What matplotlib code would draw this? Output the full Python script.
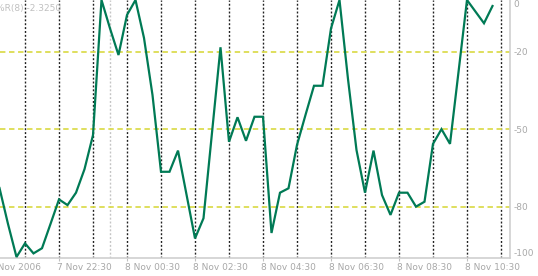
import matplotlib
matplotlib.use('Agg')
import matplotlib.pyplot as plt
import pandas as pd

# Williams %R(8), 15-minute bars, 7 Nov 2006 20:45 -> 8 Nov 2006 11:15
values = [-72.8, -86.7, -99.5, -94.2, -98.1, -96.1, -86.7, -77.2, -79.4, -74.6,
          -65.5, -52.3, 0.0, -11.0, -21.3, -5.8, 0.0, -14.7, -36.8, -66.5,
          -66.5, -58.3, -75.3, -92.3, -84.5, -51.4, -18.3, -54.9, -45.4, -54.5,
          -45.2, -45.2, -90.2, -74.6, -72.9, -56.1, -44.5, -33.2, -33.2, -11.0,
          0.0, -30.6, -58.1, -74.6, -58.3, -75.5, -83.2, -74.6, -74.6, -80.0,
          -78.1, -55.7, -50.0, -55.7, -27.9, 0.0, -4.5, -9.0, -2.325]
times = pd.date_range('2006-11-07 20:45', periods=len(values), freq='15min')

tick_times = pd.to_datetime(['2006-11-07 20:30', '2006-11-07 22:30', '2006-11-08 00:30',
                             '2006-11-08 02:30', '2006-11-08 04:30', '2006-11-08 06:30',
                             '2006-11-08 08:30', '2006-11-08 10:30'])
tick_labels = ['7 Nov 2006', '7 Nov 22:30', '8 Nov 00:30', '8 Nov 02:30',
               '8 Nov 04:30', '8 Nov 06:30', '8 Nov 08:30', '8 Nov 10:30']
hour_lines = pd.date_range('2006-11-07 21:30', '2006-11-08 11:30', freq='1h')
day_break = pd.Timestamp('2006-11-08 00:00')
x_range = pd.to_datetime(['2006-11-07 20:45:53', '2006-11-08 11:45:53'])

y_ticks = [0, -20, -50, -80, -100]
y_labels = ['0', '-20', '-50', '-80', '-100']
levels = [-20, -50, -80]
indicator = '%R(8)'

plt.rcParams['font.family'] = ['DejaVu Sans']
fig = plt.figure(figsize=(5.38, 2.76), dpi=100)
ax = fig.add_axes([0.0, 0.0641, 510 / 538, 0.9359])
fig.patch.set_facecolor('white')
ax.set_facecolor('white')

for t in hour_lines:
    ax.axvline(t, color='#202020', lw=1.0, ls=(0, (1.4, 1.4)), zorder=1)
ax.axvline(day_break, color='#c4c4c4', lw=1.0, ls=(0, (1.4, 1.4)), zorder=1)
for lv in levels:
    ax.axhline(lv, color='#dcdc50', lw=1.3, ls=(0, (3, 2)), zorder=1)

ax.plot(times, values, color='#007a55', lw=1.6, zorder=3, solid_joinstyle='miter')

ax.set_xlim(x_range[0], x_range[1])
ax.set_ylim(-100, 0)

for s in ['left', 'top']:
    ax.spines[s].set_visible(False)
for s in ['right', 'bottom']:
    ax.spines[s].set_color('#d0d0d0')
    ax.spines[s].set_linewidth(1.2)

ax.set_xticks(tick_times[1:])
ax.set_xticklabels([])
ax.tick_params(axis='x', length=2.5, width=0.8, color='#c0c0c0')
for t, lab in zip(tick_times, tick_labels):
    ax.annotate(lab, xy=(t, 0), xycoords=('data', 'axes fraction'),
                xytext=(-1.5, -3.2), textcoords='offset points',
                ha='left', va='top', fontsize=6.5, color='#a8a8a8',
                annotation_clip=False)

ax.yaxis.tick_right()
ax.set_yticks(y_ticks)
ax.set_yticklabels(y_labels)
ax.tick_params(axis='y', length=0, pad=2.5, labelsize=6.5, labelcolor='#a8a8a8')
lbls = ax.get_yticklabels()
lbls[0].set_va('top')
lbls[-1].set_va('bottom')

ax.text(-0.007, 0.985, f'{indicator} {values[-1]:.4f}', transform=ax.transAxes,
        ha='left', va='top', fontsize=6.5, color='#c0c0c0')

fig.savefig('out.png', dpi=100, facecolor='white')
